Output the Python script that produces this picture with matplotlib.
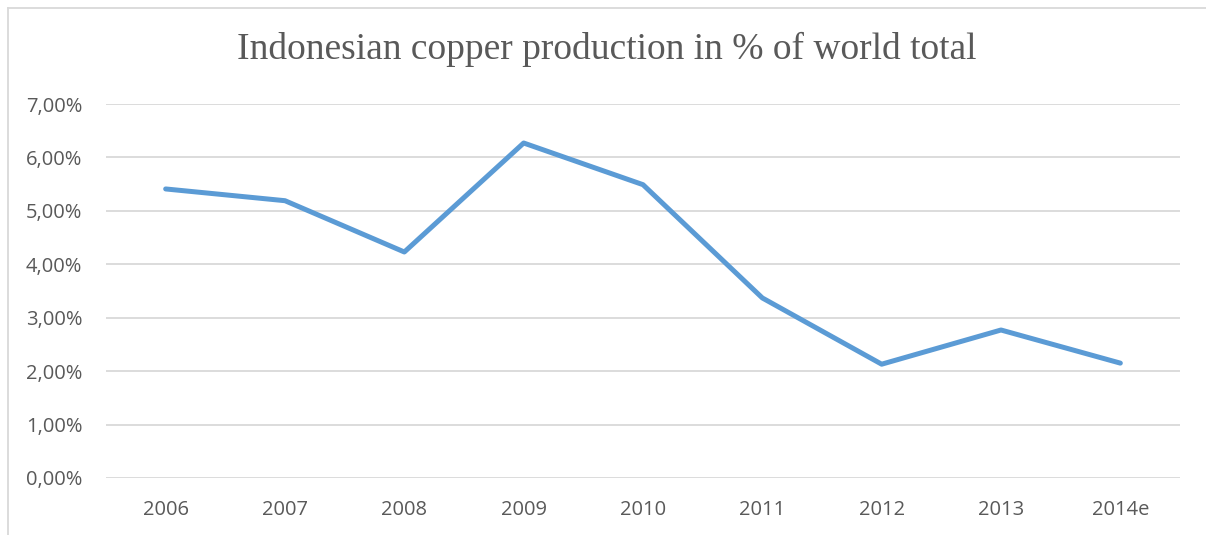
import matplotlib
matplotlib.use("Agg")
import matplotlib.pyplot as plt
from matplotlib.lines import Line2D
from matplotlib.ticker import FuncFormatter

# ── Data ─────────────────────────────────────────────────────────────
years = ["2006", "2007", "2008", "2009", "2010", "2011", "2012", "2013", "2014e"]
share = [5.41, 5.19, 4.23, 6.27, 5.49, 3.37, 2.13, 2.77, 2.15]   # % of world total
y_ticks = [0, 1, 2, 3, 4, 5, 6, 7]

W, H = 1206, 535
fig = plt.figure(figsize=(W / 100, H / 100), dpi=100)
fig.patch.set_facecolor("white")

# axes placed to match the plot area in pixels
left, right, top, bottom = 106, 1180, 104, 478
ax = fig.add_axes([left / W, 1 - bottom / H, (right - left) / W, (bottom - top) / H])

x = list(range(len(years)))
ax.plot(x, share, color="#5B9BD5", linewidth=3.6, solid_capstyle="round",
        solid_joinstyle="round", zorder=3)

ax.set_xlim(-0.5, len(years) - 0.5)
ax.set_ylim(0, 7)
ax.set_yticks(y_ticks)
ax.yaxis.set_major_formatter(FuncFormatter(lambda v, p: f"{v:.2f}%".replace(".", ",")))
ax.set_xticks(x)
ax.set_xticklabels(years)

ax.yaxis.grid(True, color="#D9D9D9", linewidth=1.3)
ax.set_axisbelow(True)
for s in ax.spines.values():
    s.set_visible(False)
ax.tick_params(length=0, labelsize=14.5, colors="#595959", labelfontfamily="Open Sans")
ax.tick_params(axis="y", pad=17)
ax.tick_params(axis="x", pad=16)

fig.text(607 / W, 1 - 49 / H, "Indonesian copper production in % of world total",
         ha="center", va="center", fontsize=27, color="#595959",
         family="Liberation Serif")

# outer chart frame (left and top edges visible)
fc = "#D9D9D9"
fig.add_artist(Line2D([7.5 / W, 7.5 / W], [0, 1 - 8 / H], color=fc, linewidth=1.3,
                      transform=fig.transFigure))
fig.add_artist(Line2D([7.5 / W, 1], [1 - 8 / H, 1 - 8 / H], color=fc, linewidth=1.3,
                      transform=fig.transFigure))

fig.savefig("out.png", dpi=100, facecolor=fig.get_facecolor())
